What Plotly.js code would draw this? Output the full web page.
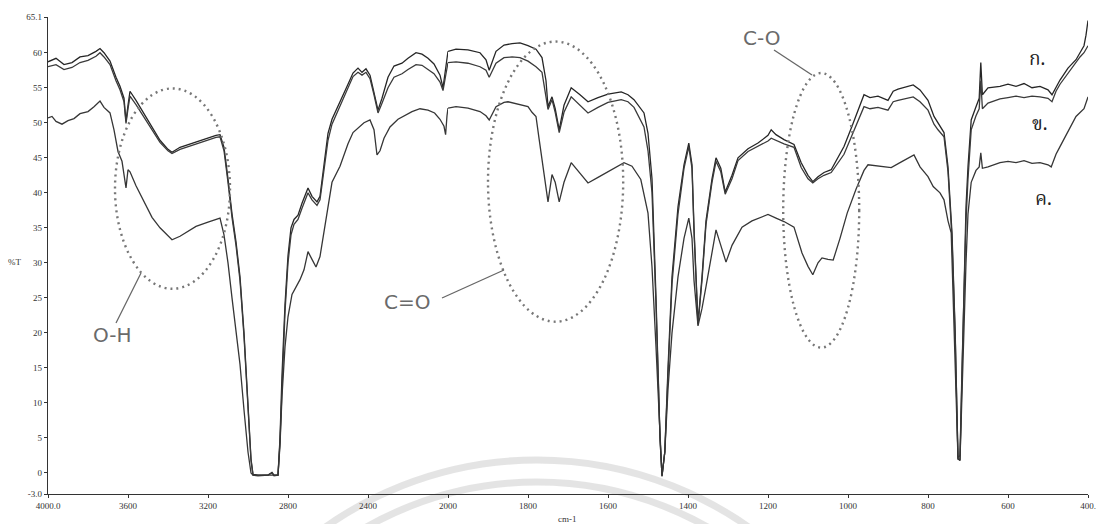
<!DOCTYPE html>
<html><head><meta charset="utf-8">
<script src="https://cdn.plot.ly/plotly-3.0.1.min.js"></script>
<style>html,body{margin:0;padding:0;background:#fff}#chart{width:1100px;height:524px}</style>
</head><body><div id="chart"></div>
<script>
// Wavenumbers (cm-1) shared by series ก. and ข.
const wnAB = [
4000,3960,3920,3880,3840,3800,3760,3740,3720,3690,
3660,3640,3620,3610,3600,3590,3560,3520,3480,3440,
3400,3380,3340,3300,3260,3200,3160,3140,3120,3100,
3080,3060,3040,3020,3000,2985,2975,2950,2900,2880,
2870,2850,2840,2830,2815,2800,2785,2770,2750,2730,
2700,2680,2655,2640,2620,2600,2580,2540,2500,2475,
2450,2430,2410,2390,2370,2350,2330,2300,2270,2230,
2200,2160,2130,2100,2070,2040,2025,2010,2000,1980,
1950,1920,1905,1897,1880,1860,1840,1820,1800,1780,
1765,1755,1750,1740,1732,1722,1710,1692,1670,1650,
1625,1600,1567,1550,1535,1510,1500,1490,1480,1470,
1465,1458,1450,1440,1425,1410,1398,1390,1385,1375,
1365,1355,1340,1330,1318,1307,1290,1275,1250,1225,
1200,1192,1180,1160,1135,1117,1100,1088,1075,1060,
1042,1025,1010,990,970,960,945,925,900,887,
875,850,837,820,800,785,775,760,750,740,
732,725,720,715,705,700,692,680,672,668,
664,650,620,600,580,560,540,520,500,490,
480,470,450,430,420,410,405,400];
// %T of series ก.
const tA = [
58.7,59.2,58.3,58.6,59.4,59.6,60.2,60.6,60.0,58.8,
56.5,55.2,53.5,50.2,52.5,54.5,53.2,51.3,49.3,47.5,
46.2,45.8,46.5,46.9,47.3,47.8,48.2,48.3,46.5,42,
37,33,28,20,10,2,-0.2,-0.3,-0.3,0.1,
-0.3,-0.3,5,14,24,31,35,36.2,36.8,38.5,
40.7,39.5,38.7,39.5,44,48.5,50.5,52.9,55.5,57.1,
57.8,57.2,57.7,56.8,54.5,51.8,53.5,56.5,58.1,58.5,
59.2,60.0,59.8,59.2,58.4,56.8,55.0,58.0,60.2,60.5,
60.4,60.0,59.0,57.5,60.2,61.1,61.3,61.4,61.0,60.5,
59.3,56,52.3,53.7,52,49,52.5,55.0,54,53,
53.6,54.1,54.4,54.0,53.3,51.4,48.5,42,25,5,
-0.4,3,15,28,38,44,47.1,44,35,21.4,
28,36,42,45,43.5,40.1,42.5,45,46.3,47.1,
48.2,49,48.3,47.6,46.9,44.3,42.5,41.6,42.3,42.9,
43.3,45,46.6,49.5,52.5,54,53.6,53.8,53.2,54.5,
54.8,55.2,55.4,54.7,53.2,50.9,50.0,48.6,43.7,34.3,
20,2,1.8,15,38,43.7,50.4,52.3,53.5,58.6,
54,55,55.2,55.5,55.2,55.6,55.0,55.2,54.7,54.0,
55.0,56.1,57.8,59.0,60.0,61,62.5,64.6];
// %T of series ข.
const tB = [
58.0,58.3,57.6,57.9,58.6,58.9,59.5,60.0,59.4,58.3,
56.0,54.7,53.0,49.9,52.0,53.8,52.6,50.8,48.9,47.2,
46.0,45.6,46.2,46.6,47.0,47.5,47.9,48.0,46.0,41.5,
36.5,32.5,27.5,19.5,9.5,1.8,-0.3,-0.4,-0.3,0.0,
-0.4,-0.3,4.5,13,23,30,34,35.5,36.2,37.8,
40.0,39.0,38.2,39.0,43,47.5,49.8,52.4,55.0,56.6,
57.2,56.8,57.2,56.3,54.0,51.4,52.8,55.0,56.5,57.0,
57.6,58.3,58.2,57.6,57.0,55.8,54.6,57.0,58.6,58.7,
58.5,58.0,57.5,56.5,58.5,59.3,59.4,59.3,58.8,58.0,
57.2,54,51.9,53.3,51.5,48.6,51.5,53.7,52.5,51.4,
52.2,52.9,53.3,53,52.2,49.4,46,40,24,5,
-0.4,3,14,27,37,43.5,46.6,43.5,34.5,21.2,
27.5,35.5,41.5,44.5,43,39.8,42,44.6,45.9,46.7,
47.4,47.8,47.5,47.0,46.5,43.6,42.0,41.4,42.0,42.5,
42.9,44.2,45.5,48.2,51.0,52.3,52.0,52.2,51.8,53.0,
53.2,53.5,53.7,53.0,51.8,49.8,49.0,48.0,43,33.5,
19.5,2.2,2.5,15,36,42,49,51,52,56,
52,52.8,53.4,53.6,53.8,53.6,53.8,53.7,53.5,53.0,
54.5,55.5,57.1,58.6,59.4,60.0,60.5,61.0];
// Wavenumbers and %T of series ค.
const wnC = [
4000,3980,3960,3930,3900,3870,3840,3800,3770,3740,
3720,3690,3670,3650,3630,3610,3600,3590,3560,3520,
3480,3440,3400,3380,3340,3300,3260,3200,3160,3140,
3120,3100,3080,3060,3040,3020,3000,2985,2975,2900,
2850,2840,2830,2815,2800,2780,2760,2740,2720,2700,
2680,2660,2640,2620,2600,2580,2540,2500,2475,2450,
2420,2390,2370,2355,2340,2320,2290,2250,2220,2180,
2140,2100,2067,2040,2020,2012,2005,2000,1980,1950,
1920,1905,1897,1880,1860,1850,1820,1800,1790,1780,
1772,1760,1750,1740,1732,1722,1710,1692,1670,1650,
1625,1600,1580,1560,1540,1518,1500,1490,1480,1470,
1465,1458,1450,1440,1425,1410,1398,1390,1385,1375,
1365,1355,1340,1330,1318,1305,1290,1265,1240,1200,
1180,1160,1135,1115,1100,1088,1075,1065,1050,1037,
1020,1002,980,960,950,925,892,870,850,835,
820,800,787,770,760,750,742,735,725,720,
715,705,700,692,680,672,668,664,650,620,
600,580,560,540,520,500,492,480,470,450,
430,410,400];
const tC = [
50.7,50.9,50.2,49.8,50.3,50.6,51.3,51.6,52.3,53.1,
52.2,51.4,49.0,45.9,44.5,40.7,43.3,43.0,41.0,38.8,
36.5,35.0,33.8,33.3,33.8,34.5,35.2,35.8,36.2,36.4,
34.0,30.0,25.0,20.0,15.5,9.0,3.0,0,-0.3,-0.3,
-0.3,4,11,18,22.3,25.5,26.5,27.6,29.0,31.6,
30.5,29.4,30.9,34.5,38.0,41.5,43.8,47.0,48.6,49.2,
50.0,50.4,49.0,45.4,46.0,47.8,49.4,50.5,51.0,51.6,
52.0,51.8,51.4,50.5,49.5,48.3,51.0,52.1,52.3,52.1,
51.6,51.0,50.4,52.3,52.9,53.0,52.6,52.3,51.5,50.9,
47.6,43,38.7,42.6,41.5,38.7,41.5,44.3,42.8,41.4,
42.2,43.0,43.6,44.3,43.8,41.9,37.1,29.4,18,4,
-0.5,3,12,20,28,33.5,36.4,33.5,27.5,21,
23.5,26.6,31.5,34.7,32.5,30.1,32.5,35.1,36.0,36.9,
36.4,35.9,35.1,31.4,29.5,28.3,30.0,30.7,30.5,30.4,
33.5,37.1,40.5,43.2,44.0,43.8,43.6,44.3,45.0,45.4,
43.7,42.3,40.9,40,39.0,36,34.3,20,2.0,1.9,
12,30,37,41.5,43.2,43.7,45.7,43.5,43.7,44.3,
44.5,44.3,44.6,44.2,44.3,44.0,43.7,45.5,46.6,48.7,
50.9,52.0,53.7];

const seriesNames = ['ก.','ข.','ค.'];
const xTicksLeft = [4000,3600,3200,2800,2400];
const xTickTextLeft = ['4000.0','3600','3200','2800','2400'];
const xTicksRight = [2000,1800,1600,1400,1200,1000,800,600,400];
const xTickTextRight = ['2000','1800','1600','1400','1200','1000','800','600','400.'];
const yTicks = [65.1,60,55,50,45,40,35,30,25,20,15,10,5,0,-3.0];
const yTickText = ['65.1','60','55','50','45','40','35','30','25','20','15','10','5','0','-3.0'];
const bandLabels = ['O-H','C=O','C-O'];

if (wnAB.length !== tA.length || wnAB.length !== tB.length || wnC.length !== tC.length) {
  throw new Error('length mismatch ' + wnAB.length + ' ' + tA.length + ' ' + tB.length + ' ' + wnC.length + ' ' + tC.length);
}

// The instrument plots 4000-2000 cm-1 at half the scale of 2000-400 cm-1: two adjoining x axes.
const BREAK = 2000;
const splitFrac = 2000 / (2000 + 2 * 1600);
function part(wn, t, left) {
  const x = [], y = [];
  wn.forEach((w, i) => { if (left ? w >= BREAK : w <= BREAK) { x.push(w); y.push(t[i]); } });
  return {x, y};
}
const colors = ['#262626', '#3a3a3a', '#363636'];
const data = [];
[[wnAB, tA], [wnAB, tB], [wnC, tC]].forEach(([wn, t], k) => {
  const L = part(wn, t, true), R = part(wn, t, false);
  data.push({x: L.x, y: L.y, xaxis: 'x', yaxis: 'y', type: 'scatter', mode: 'lines',
    name: seriesNames[k], line: {color: colors[k], width: 1.3}, showlegend: false});
  data.push({x: R.x, y: R.y, xaxis: 'x2', yaxis: 'y', type: 'scatter', mode: 'lines',
    name: seriesNames[k], line: {color: colors[k], width: 1.3}, showlegend: false});
});

// page geometry helpers (plot area 48..1088 x 17..494 px)
const ML = 48, MR = 12, MT = 17, MB = 30, W = 1100, H = 524;
const PX = px => (px - ML) / (W - ML - MR);
const PY = py => (H - MB - py) / (H - MT - MB);

const tickfont = {family: 'Liberation Serif, Times New Roman, serif', size: 9, color: '#333'};
const axisCommon = {showline: true, linecolor: '#333', linewidth: 1.3, ticks: 'outside', ticklen: 3,
  tickcolor: '#333', showgrid: false, zeroline: false, tickfont: tickfont, fixedrange: true};

const dotted = {color: '#777', width: 2.4, dash: '2px,4px'};
const shapes = [
  // watermark arcs
  {type: 'circle', xref: 'paper', yref: 'paper', layer: 'below',
   x0: PX(537 - 367), x1: PX(537 + 367), y0: PY(827 + 367), y1: PY(827 - 367),
   line: {color: 'rgba(205,205,205,0.55)', width: 7}},
  {type: 'circle', xref: 'paper', yref: 'paper', layer: 'below',
   x0: PX(537 - 345), x1: PX(537 + 345), y0: PY(827 + 345), y1: PY(827 - 345),
   line: {color: 'rgba(205,205,205,0.55)', width: 7}},
  // dotted ellipses
  {type: 'circle', xref: 'x', yref: 'y', x0: 3665, x1: 3090, y0: 26.3, y1: 54.9, line: dotted},
  {type: 'circle', xref: 'x2', yref: 'y', x0: 1900, x1: 1562, y0: 21.6, y1: 61.6, line: dotted},
  {type: 'circle', xref: 'x2', yref: 'y', x0: 1162, x1: 972, y0: 17.9, y1: 57.1, line: dotted},
  // leader lines
  {type: 'line', xref: 'paper', yref: 'paper', x0: PX(116), y0: PY(323), x1: PX(141), y1: PY(273), line: {color: '#666', width: 1.3}},
  {type: 'line', xref: 'paper', yref: 'paper', x0: PX(442), y0: PY(298), x1: PX(504), y1: PY(270), line: {color: '#666', width: 1.3}},
  {type: 'line', xref: 'paper', yref: 'paper', x0: PX(774), y0: PY(50), x1: PX(812), y1: PY(75), line: {color: '#666', width: 1.3}}
];

const bandFont = {family: 'DejaVu Sans, Liberation Sans, sans-serif', size: 20, color: '#6a6a6a'};
const thaiFont = {family: 'Noto Serif Thai, Noto Sans Thai, Loma, Garuda, Norasi, Tlwg Typo, DejaVu Sans, sans-serif', size: 19, color: '#222'};
const ann = (px, py, text, font, xanchor) => ({xref: 'paper', yref: 'paper', x: PX(px), y: PY(py), text: text,
  showarrow: false, font: font, xanchor: xanchor || 'center', yanchor: 'middle'});
const annotations = [
  ann(112, 335, bandLabels[0], bandFont),
  ann(407, 302, bandLabels[1], bandFont),
  ann(761, 38, bandLabels[2], bandFont),
  ann(1037, 60, seriesNames[0], thaiFont),
  ann(1040, 125, seriesNames[1], thaiFont),
  ann(1043, 200, seriesNames[2], thaiFont),
  ann(23, 262, '%T', {family: 'Liberation Serif, serif', size: 9, color: '#333'}, 'right'),
  ann(567, 519, 'cm-1', {family: 'Liberation Serif, serif', size: 9, color: '#333'})
];

const layout = {
  width: W, height: H, margin: {l: ML, r: MR, t: MT, b: MB, pad: 0},
  paper_bgcolor: '#fff', plot_bgcolor: 'rgba(0,0,0,0)', showlegend: false,
  xaxis: Object.assign({}, axisCommon, {domain: [0, splitFrac], range: [4000, BREAK], anchor: 'y',
    tickmode: 'array', tickvals: xTicksLeft, ticktext: xTickTextLeft}),
  xaxis2: Object.assign({}, axisCommon, {domain: [splitFrac, 1], range: [BREAK, 400], anchor: 'y',
    tickmode: 'array', tickvals: xTicksRight, ticktext: xTickTextRight}),
  yaxis: Object.assign({}, axisCommon, {range: [-3.0, 65.1], anchor: 'x',
    tickmode: 'array', tickvals: yTicks, ticktext: yTickText}),
  shapes: shapes, annotations: annotations
};
Plotly.newPlot('chart', data, layout, {displayModeBar: false, staticPlot: true});
</script></body></html>
